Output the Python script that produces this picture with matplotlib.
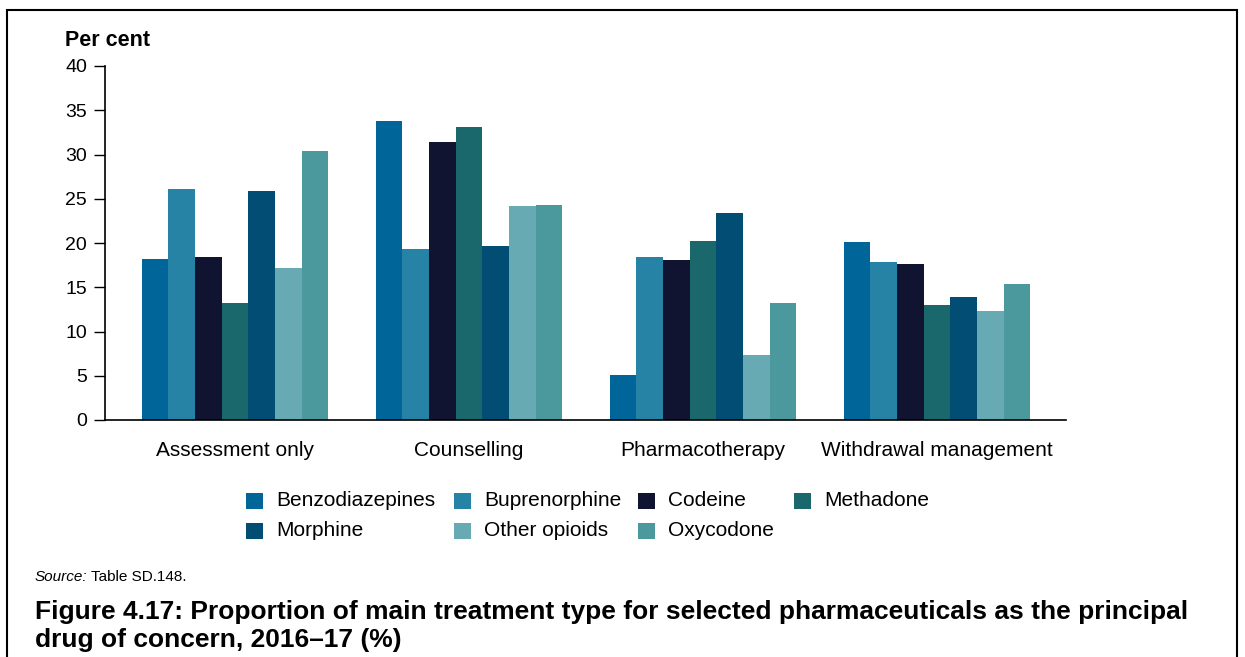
import numpy as np
import matplotlib.pyplot as plt
from matplotlib.patches import Rectangle

plt.rcParams['font.family'] = ['Liberation Sans', 'DejaVu Sans']

# Data
treatments = ['Assessment only', 'Counselling', 'Pharmacotherapy', 'Withdrawal management']
drugs = ['Benzodiazepines', 'Buprenorphine', 'Codeine', 'Methadone',
         'Morphine', 'Other opioids', 'Oxycodone']
benzodiazepines = [18.2, 33.8, 5.1, 20.1]
buprenorphine = [26.1, 19.3, 18.4, 17.8]
codeine = [18.4, 31.4, 18.1, 17.6]
methadone = [13.2, 33.1, 20.2, 13.0]
morphine = [25.9, 19.7, 23.4, 13.9]
other_opioids = [17.2, 24.2, 7.4, 12.3]
oxycodone = [30.4, 24.3, 13.2, 15.4]
yticks = [0, 5, 10, 15, 20, 25, 30, 35, 40]

series = [benzodiazepines, buprenorphine, codeine, methadone,
          morphine, other_opioids, oxycodone]
colors = ['#006699', '#2683a6', '#111431', '#1b686c',
          '#024d74', '#67aab4', '#4b989d']

W, H = 1245, 657
fig = plt.figure(figsize=(12.45, 6.57), dpi=100)
ax = fig.add_axes([105 / W, 1 - 420 / H, 961 / W, 354 / H])

x = np.arange(len(treatments))
width = 0.114
for i, (vals, c) in enumerate(zip(series, colors)):
    ax.bar(x + (i - 3) * width, vals, width, color=c, linewidth=0)

ax.set_xlim(-0.556, 3.551)
ax.set_ylim(0, 40)
ax.set_yticks(yticks)
ax.set_xticks(x)
ax.set_xticklabels(treatments, fontsize=15)
ax.tick_params(axis='x', length=0, pad=15)
ax.tick_params(axis='y', length=8, width=1, pad=5, labelsize=14, direction='out')
for s in ['top', 'right']:
    ax.spines[s].set_visible(False)
ax.spines['left'].set_linewidth(1.2)
ax.spines['bottom'].set_linewidth(1.2)

fig.text(65 / W, 1 - 41 / H, 'Per cent', fontsize=15.5, fontweight='bold',
         ha='left', va='center')

# legend laid out as in the original (4 columns, 2 rows)
col_x = [246, 454, 638, 794]
row_y = [501, 531]
for i, (name, c) in enumerate(zip(drugs, colors)):
    cx = col_x[i % 4]
    cy = row_y[i // 4]
    fig.patches.append(Rectangle((cx / W, 1 - (cy + 8) / H), 17 / W, 16 / H,
                                 transform=fig.transFigure, facecolor=c, edgecolor='none'))
    fig.text((cx + 30) / W, 1 - cy / H, name, fontsize=15, ha='left', va='center')

src = fig.text(35 / W, 1 - 577 / H, 'Source:', fontsize=11, style='italic',
               ha='left', va='center')
r = fig.canvas.get_renderer()
x_end = src.get_window_extent(r).x1
fig.text((x_end + 3) / W, 1 - 577 / H, 'Table SD.148.', fontsize=11,
         ha='left', va='center')
fig.text(35 / W, 1 - 612 / H,
         'Figure 4.17: Proportion of main treatment type for selected pharmaceuticals as the principal',
         fontsize=19, fontweight='bold', ha='left', va='center')
fig.text(35 / W, 1 - 640 / H, 'drug of concern, 2016\u201317 (%)',
         fontsize=19, fontweight='bold', ha='left', va='center')

# outer frame, open at the bottom
fig.patches.append(Rectangle((7 / W, -0.05), 1230 / W, 1.05 - 10 / H,
                             transform=fig.transFigure, fill=False,
                             edgecolor='black', linewidth=1.5))

fig.savefig('out.png', dpi=100)
